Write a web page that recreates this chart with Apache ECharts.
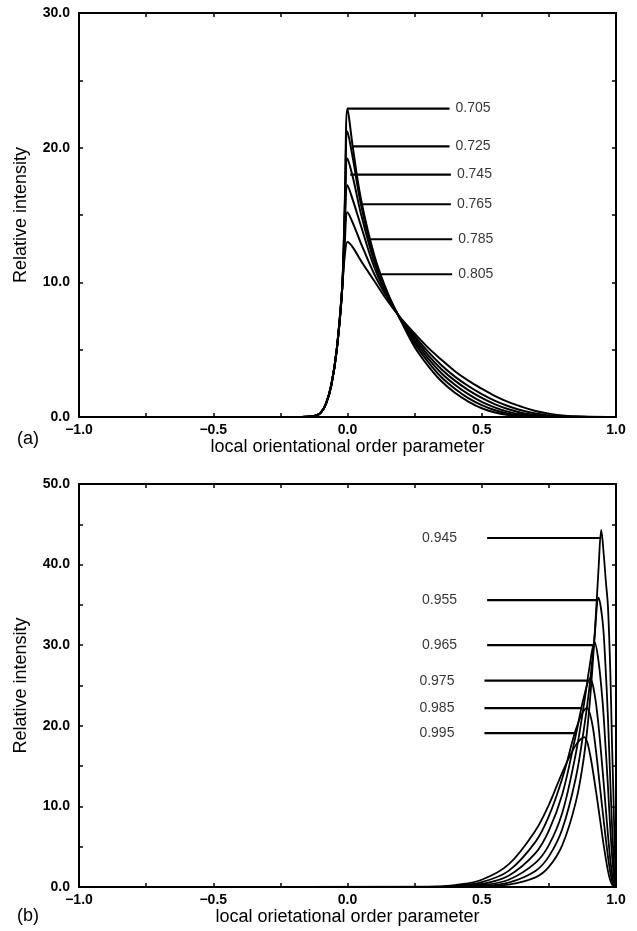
<!DOCTYPE html>
<html><head><meta charset="utf-8">
<script src="https://cdn.jsdelivr.net/npm/echarts@6/dist/echarts.min.js"></script>
<style>html,body{margin:0;padding:0;background:#fff}#c{width:637px;height:931px}</style>
</head><body><div id="c"></div>
<script>
// ---- Panel (a) data ----
var namesA = ['0.705','0.725','0.745','0.765','0.785','0.805'];
var xsA = [-1,-0.2,-0.15,-0.12,-0.1,-0.08,-0.06,-0.04,-0.02,-0.01,0,0.02,0.05,0.1,0.15,0.2,0.25,0.3,0.35,0.4,0.45,0.5,0.55,0.6,0.65,0.7,0.75,0.8,0.85,0.9,1.0];
var a705 = [0,0,0.02,0.1,0.3,1.0,2.4,5.0,9.5,16.0,22.9,20.0,16.2,12.0,9.2,7.1,5.2,3.8,2.65,1.8,1.15,0.65,0.33,0.14,0.05,0.01,0,0,0,0,0];
var a725 = [0,0,0.02,0.1,0.3,1.0,2.4,5.0,9.5,15.5,21.2,19.2,15.8,11.8,9.1,7.15,5.45,4.1,2.95,2.1,1.4,0.88,0.5,0.25,0.1,0.03,0.01,0,0,0,0];
var a745 = [0,0,0.02,0.1,0.3,1.0,2.4,5.0,9.5,15.0,19.2,17.8,15.1,11.5,9.0,7.2,5.65,4.35,3.25,2.4,1.7,1.12,0.7,0.38,0.18,0.07,0.02,0,0,0,0];
var a765 = [0,0,0.02,0.1,0.3,1.0,2.4,5.0,9.5,14.0,17.2,16.1,14.2,11.1,8.9,7.2,5.85,4.6,3.55,2.7,2.0,1.42,0.94,0.57,0.3,0.14,0.05,0.01,0,0,0];
var a785 = [0,0,0.02,0.1,0.3,1.0,2.4,5.0,9.5,13.0,15.2,14.4,12.9,10.6,8.8,7.25,6.0,4.85,3.85,3.0,2.3,1.7,1.2,0.8,0.48,0.26,0.12,0.05,0.01,0,0];
var a805 = [0,0,0.02,0.1,0.3,1.0,2.4,5.0,9.5,12.0,13.0,12.6,11.6,10.1,8.6,7.3,6.2,5.15,4.25,3.4,2.7,2.1,1.55,1.1,0.75,0.45,0.25,0.12,0.05,0.01,0];
var curvesA = [a705,a725,a745,a765,a785,a805];
// annotation leader lines (a)
var labAy  = [22.9,20.1,18.0,15.8,13.2,10.6];
var labAx0 = [0,0.02,0.01,0.05,0.08,0.11];
var labAx1 = [0.38,0.38,0.385,0.385,0.39,0.39];

// ---- Panel (b) data ----
var namesB = ['0.945','0.955','0.965','0.975','0.985','0.995'];
var b945x = [-1,0.4,0.5,0.6,0.7,0.75,0.8,0.85,0.88,0.9,0.92,0.935,0.945,0.955,0.962,0.97,0.979,0.985,0.99,0.995,1.0];
var b945y = [0,0,0.05,0.3,1.2,2.5,5.2,10.5,16,22,31,39.5,44.3,41,38,34.8,26.5,18,12,5,0];
var b955x = [-1,0.4,0.5,0.6,0.7,0.75,0.8,0.85,0.88,0.9,0.92,0.935,0.95,0.96,0.97,0.98,0.99,0.997,1.0];
var b955y = [0,0.02,0.12,0.55,2.0,3.8,7.2,13.5,19.5,24.5,31,35.9,33,28,21,12,4,0.5,0];
var b965x = [-1,0.4,0.5,0.6,0.7,0.75,0.8,0.85,0.88,0.9,0.92,0.935,0.95,0.96,0.97,0.98,0.99,0.997,1.0];
var b965y = [0,0.04,0.22,0.9,3.0,5.2,9.2,16.5,22.5,27,30.4,28,23,18,12.5,6.5,2,0.2,0];
var b975x = [-1,0.35,0.4,0.5,0.6,0.7,0.75,0.8,0.85,0.88,0.904,0.92,0.935,0.95,0.96,0.97,0.98,0.99,0.997];
var b975y = [0,0.02,0.08,0.38,1.4,4.2,7,11.5,18.8,23.5,25.9,24,20,14.5,10.5,6.5,3,0.7,0];
var b985x = [-1,0.35,0.4,0.5,0.6,0.7,0.75,0.8,0.85,0.875,0.892,0.91,0.925,0.94,0.955,0.97,0.98,0.99,1.0];
var b985y = [0,0.04,0.14,0.6,2.0,5.6,8.8,13.5,19.5,21.6,22.2,20.5,17,12.5,8,3.8,1.6,0.3,0];
var b995x = [-1,0.3,0.35,0.4,0.5,0.6,0.7,0.75,0.8,0.85,0.882,0.9,0.925,0.94,0.955,0.97,0.98,0.99,1.0];
var b995y = [0,0.02,0.08,0.22,0.9,2.8,7.0,10.2,14.2,17.6,18.6,17,12,8.5,5,2,0.7,0.1,0];
var curvesBx = [b945x,b955x,b965x,b975x,b985x,b995x];
var curvesBy = [b945y,b955y,b965y,b975y,b985y,b995y];
// annotation leader lines (b)
var labBy  = [43.3,35.6,30.0,25.6,22.2,19.1];
var labBx0 = [0.52,0.52,0.52,0.51,0.51,0.51];
var labBx1 = [0.945,0.934,0.92,0.893,0.873,0.854];

function fmt(v){ var s = Math.abs(v).toFixed(1); return v < 0 ? '\u2212' + s : s; }
function pairs(xs, ys){ return xs.map(function(x,i){ return [x, ys[i]]; }); }

var FONT = 'Liberation Sans, Arial, Helvetica, sans-serif';
var grids = [
  {left:79, right:21, top:13, height:404},
  {left:79, right:21, top:484, height:403}
];
function xAx(g, pos, labels){
  return {type:'value', gridIndex:g, position:pos, min:-1, max:1, interval:0.5,
    axisLine:{show:true, onZero:false, lineStyle:{color:'#000', width:2}},
    axisTick:{show:true, inside:true, length:4, lineStyle:{color:'#000', width:1.5}},
    minorTick:{show:true, splitNumber:2, length:4, lineStyle:{color:'#000', width:1.5}},
    splitLine:{show:false},
    axisLabel:{show:labels, margin:6, fontFamily:FONT, fontWeight:'bold', fontSize:14, color:'#000', formatter:fmt},
    name: labels ? (g===0 ? 'local orientational order parameter' : 'local orietational order parameter') : '',
    nameLocation:'middle', nameGap:15,
    nameTextStyle:{fontFamily:FONT, fontSize:18, color:'#000'}
  };
}
function yAx(g, pos, labels, max){
  return {type:'value', gridIndex:g, position:pos, min:0, max:max, interval:10,
    axisLine:{show:true, onZero:false, lineStyle:{color:'#000', width:2}},
    axisTick:{show:true, inside:true, length:4, lineStyle:{color:'#000', width:1.5}},
    minorTick:{show:true, splitNumber:2, length:4, lineStyle:{color:'#000', width:1.5}},
    splitLine:{show:false},
    axisLabel:{show:labels, margin:9, fontFamily:FONT, fontWeight:'bold', fontSize:14, color:'#000', formatter:fmt},
    name: labels ? 'Relative intensity' : '', nameLocation:'middle', nameGap:49,
    nameTextStyle:{fontFamily:FONT, fontSize:18, color:'#000'}
  };
}

var series = [];
curvesA.forEach(function(ys, i){
  series.push({type:'line', name:namesA[i], xAxisIndex:0, yAxisIndex:0, data:pairs(xsA, ys),
    showSymbol:false, symbol:'none', smooth:0.35,
    lineStyle:{color:'#000', width:2}, silent:true, z:3});
});
curvesBx.forEach(function(xs, i){
  series.push({type:'line', name:namesB[i], xAxisIndex:2, yAxisIndex:2, data:pairs(xs, curvesBy[i]),
    showSymbol:false, symbol:'none', smooth:0.35,
    lineStyle:{color:'#000', width:1.8}, silent:true, z:3});
});
var lblStyle = {show:true, fontFamily:FONT, fontSize:14, color:'#000'};
namesA.forEach(function(n, i){
  series.push({type:'line', xAxisIndex:0, yAxisIndex:0, data:[[labAx0[i],labAy[i]],[labAx1[i],labAy[i]]],
    symbol:'none', lineStyle:{color:'#000', width:2.2}, silent:true, z:4});
  series.push({type:'scatter', xAxisIndex:0, yAxisIndex:0, data:[[labAx1[i],labAy[i]]], symbolSize:0.01,
    label:Object.assign({position:'right', distance:6, formatter:n}, lblStyle), silent:true});
});
namesB.forEach(function(n, i){
  series.push({type:'line', xAxisIndex:2, yAxisIndex:2, data:[[labBx0[i],labBy[i]],[labBx1[i],labBy[i]]],
    symbol:'none', lineStyle:{color:'#000', width:2.2}, silent:true, z:4});
  series.push({type:'scatter', xAxisIndex:2, yAxisIndex:2, data:[[labBx0[i],labBy[i]]], symbolSize:0.01,
    label:Object.assign({position:'left', distance:30, formatter:n}, lblStyle), silent:true});
});

var chart = echarts.init(document.getElementById('c'), null, {renderer:'canvas'});
chart.setOption({
  animation:false,
  backgroundColor:'#fff',
  grid: grids,
  xAxis:[xAx(0,'bottom',true), xAx(0,'top',false), xAx(1,'bottom',true), xAx(1,'top',false)],
  yAxis:[yAx(0,'left',true,30), yAx(0,'right',false,30), yAx(1,'left',true,50), yAx(1,'right',false,50)],
  series: series,
  graphic:[
    {type:'text', left:17, top:430, style:{text:'(a)', font:'18px '+FONT, fill:'#000'}},
    {type:'text', left:17, top:907, style:{text:'(b)', font:'18px '+FONT, fill:'#000'}}
  ]
});
</script>
</body></html>
